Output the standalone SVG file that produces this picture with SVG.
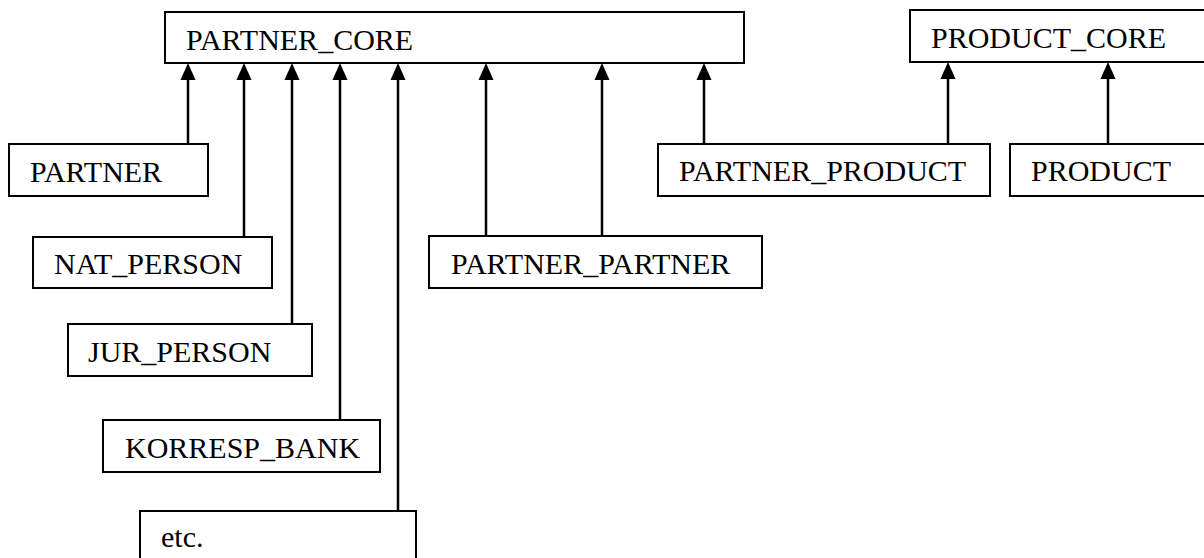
<svg xmlns="http://www.w3.org/2000/svg" xmlns:xlink="http://www.w3.org/1999/xlink" width="1204" height="558" viewBox="0 0 1204 558">
  <style>
    .box { fill: #fff; stroke: #000; stroke-width: 2; }
    .lbl { font-family: "Liberation Serif", "Times New Roman", serif; font-size: 30px; fill: #000; }
    .link { stroke: #000; stroke-width: 2.5; fill: none; }
    .head { fill: #000; }
  </style>
  <defs>
    <!-- upward arrowhead, tip at the origin -->
    <path id="up" d="M0,0 L7.5,17 L-7.5,17 Z"/>
  </defs>
  <rect width="1204" height="558" fill="#fff"/>

  <g id="connectors">
    <path class="link" d="M188,144 V72"/>
    <path class="link" d="M244,237 V72"/>
    <path class="link" d="M292,324 V72"/>
    <path class="link" d="M340,420 V72"/>
    <path class="link" d="M398,511 V72"/>
    <path class="link" d="M486,236 V72"/>
    <path class="link" d="M602,236 V72"/>
    <path class="link" d="M704,144 V72"/>
    <path class="link" d="M948,144 V71"/>
    <path class="link" d="M1108,144 V71"/>
    <g class="head">
      <use xlink:href="#up" x="188" y="63"/>
      <use xlink:href="#up" x="244" y="63"/>
      <use xlink:href="#up" x="292" y="63"/>
      <use xlink:href="#up" x="340" y="63"/>
      <use xlink:href="#up" x="398" y="63"/>
      <use xlink:href="#up" x="486" y="63"/>
      <use xlink:href="#up" x="602" y="63"/>
      <use xlink:href="#up" x="704" y="63"/>
      <use xlink:href="#up" x="948" y="62"/>
      <use xlink:href="#up" x="1108" y="62"/>
    </g>
  </g>

  <g id="partner_core">
    <rect class="box" x="165" y="12" width="579" height="51"/>
    <text class="lbl" x="186" y="50">PARTNER_CORE</text>
  </g>
  <g id="product_core">
    <rect class="box" x="910" y="10" width="310" height="52"/>
    <text class="lbl" x="931" y="48">PRODUCT_CORE</text>
  </g>
  <g id="partner">
    <rect class="box" x="9" y="144" width="199" height="52"/>
    <text class="lbl" x="30" y="182">PARTNER</text>
  </g>
  <g id="partner_product">
    <rect class="box" x="658" y="144" width="332" height="52"/>
    <text class="lbl" x="679" y="181">PARTNER_PRODUCT</text>
  </g>
  <g id="product">
    <rect class="box" x="1010" y="144" width="210" height="52"/>
    <text class="lbl" x="1031" y="181">PRODUCT</text>
  </g>
  <g id="nat_person">
    <rect class="box" x="33" y="237" width="239" height="51"/>
    <text class="lbl" x="54" y="274">NAT_PERSON</text>
  </g>
  <g id="partner_partner">
    <rect class="box" x="429" y="236" width="333" height="52"/>
    <text class="lbl" x="451" y="274">PARTNER_PARTNER</text>
  </g>
  <g id="jur_person">
    <rect class="box" x="68" y="324" width="244" height="52"/>
    <text class="lbl" x="88" y="362">JUR_PERSON</text>
  </g>
  <g id="korresp_bank">
    <rect class="box" x="103" y="420" width="277" height="52"/>
    <text class="lbl" x="125" y="458">KORRESP_BANK</text>
  </g>
  <g id="etc">
    <rect class="box" x="140" y="511" width="276" height="60"/>
    <text class="lbl" x="161" y="547">etc.</text>
  </g>
</svg>
